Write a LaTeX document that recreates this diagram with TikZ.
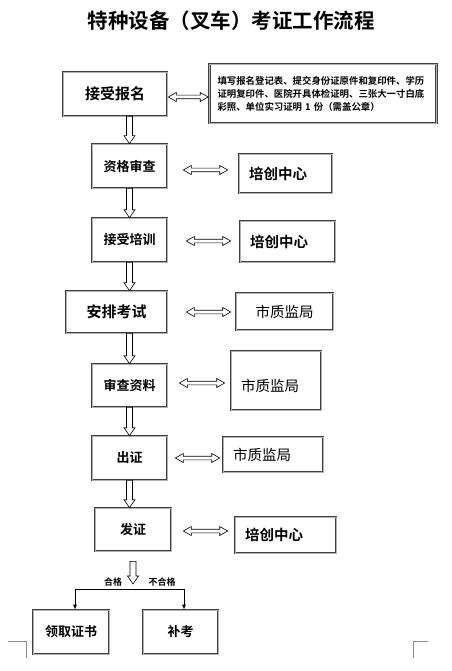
\documentclass[tikz,border=0pt]{standalone}
\usepackage{fontspec}
\setmainfont{Noto Sans CJK SC}
\newfontfamily\cjkb{Noto Sans CJK SC Bold}
\usetikzlibrary{calc,arrows.meta}
\tikzset{
  box/.style={draw=black!75, double=black!30, line width=0.6pt, double distance=0.9pt,
    fill=white, inner sep=0pt, font=\cjkb\fontsize{13}{15}\selectfont},
  sidebox/.style={box, align=left, inner xsep=10pt, inner ysep=0pt, font=\cjkb\fontsize{14.5}{16}\selectfont},
  harrow/.style={draw=black, line width=0.6pt, fill=white, line join=miter},
  small/.style={font=\cjkb\fontsize{9}{10}\selectfont, inner sep=0pt},
  corner/.style={draw=black!45, line width=0.6pt}
}
\newcommand\vharrow[2]{\draw[harrow] let \p1=#1, \p2=#2 in
  (\x1-3pt,\y1) -- (\x1-3pt,\y2+8pt) -- (\x1-5.5pt,\y2+8pt) -- (\x1,\y2) --
  (\x1+5.5pt,\y2+8pt) -- (\x1+3pt,\y2+8pt) -- (\x1+3pt,\y1) -- cycle;}
% #1 left node, #2 right node, #3 y, #4 left gap, #5 right gap
\newcommand\dharrow[5]{\draw[harrow] let \p1=(#1.east), \p2=(#2.west), \p3=(0,#3) in
  (\x1+#4pt,\y3) -- (\x1+#4pt+8pt,\y3+4.5pt) -- (\x1+#4pt+8pt,\y3+1.8pt) --
  (\x2-#5pt-8pt,\y3+1.8pt) -- (\x2-#5pt-8pt,\y3+4.5pt) -- (\x2-#5pt,\y3) --
  (\x2-#5pt-8pt,\y3-4.5pt) -- (\x2-#5pt-8pt,\y3-1.8pt) -- (\x1+#4pt+8pt,\y3-1.8pt) --
  (\x1+#4pt+8pt,\y3-4.5pt) -- cycle;}
\begin{document}
\begin{tikzpicture}[x=1pt,y=-1pt]
\useasboundingbox (0,0) rectangle (451,671);
\node[font=\cjkb\fontsize{20.5}{23}\selectfont] (title) at (231,21) {特种设备（叉车）考证工作流程};

\coordinate (col) at (129.5,0);

% main column
\node[box, minimum width=104pt, minimum height=44pt, font=\cjkb\fontsize{15}{17}\selectfont] (s1) at (115,94) {接受报名};
\node[box, minimum width=75pt, minimum height=44pt] (s2) at (129.5,166) {资格审查};
\node[box, minimum width=75pt, minimum height=44pt] (s3) at (129.5,240) {接受培训};
\node[box, minimum width=101pt, minimum height=42pt, font=\cjkb\fontsize{15}{17}\selectfont] (s4) at (116.5,312) {安排考试};
\node[box, minimum width=75pt, minimum height=43pt] (s5) at (129.5,385.5) {审查资料};
\node[box, minimum width=75pt, minimum height=44pt] (s6) at (129.5,458) {出证};
\node[box, minimum width=76pt, minimum height=43pt] (s7) at (133,529.5) {发证};

% side boxes
\node[box, inner xsep=8pt, inner ysep=0pt, text width=211pt, align=left, minimum height=59pt,
  font=\cjkb\fontsize{9.4}{13}\selectfont] (info) at (323,93.5)
  {填写报名登记表、提交身份证原件和复印件、学历\\证明复印件、医院开具体检证明、三张大一寸白底\\彩照、单位实习证明 1 份（需盖公章）};
\node[sidebox, text width=73pt, minimum height=39pt] (c1) at (285.5,173.5) {培创中心};
\node[sidebox, text width=75pt, minimum height=41pt] (c2) at (287.5,241.5) {培创中心};
\node[sidebox, text width=77pt, align=center, minimum height=37pt, font=\fontsize{14.5}{16}\selectfont] (m1) at (284.5,311.5) {市质监局};
\node[sidebox, text width=70pt, minimum height=59pt, text height=22pt, text depth=0pt, font=\fontsize{14.5}{16}\selectfont] (m2) at (276,380.5) {市质监局};
\node[sidebox, text width=80pt, minimum height=35pt, font=\fontsize{14.5}{16}\selectfont] (m3) at (273,454.5) {市质监局};
\node[sidebox, text width=81pt, minimum height=36pt] (c3) at (285.5,535) {培创中心};

% bottom boxes
\node[box, minimum width=76pt, minimum height=44pt] (ok) at (71,632) {领取证书};
\node[box, minimum width=75pt, minimum height=44pt] (re) at (180.5,632) {补考};

% vertical hollow arrows
\vharrow{(s1.south -| col)}{(s2.north -| col)}
\vharrow{(s2.south -| col)}{(s3.north -| col)}
\vharrow{(s3.south -| col)}{(s4.north -| col)}
\vharrow{(s4.south -| col)}{(s5.north -| col)}
\vharrow{(s5.south -| col)}{(s6.north -| col)}
\vharrow{(s6.south -| col)}{(s7.north -| col)}

% horizontal double arrows
\dharrow{s1}{info}{97}{1}{1}
\dharrow{s2}{c1}{170}{16}{11}
\dharrow{s3}{c2}{241}{19}{9}
\dharrow{s4}{m1}{312}{19}{5}
\dharrow{s5}{m2}{383}{12}{6}
\dharrow{s6}{m3}{458}{8}{3}
\dharrow{s7}{c3}{531}{12}{7}

% branch
\coordinate (br) at (133,589);
\vharrow{([yshift=-10pt]s7.south)}{([yshift=5pt]br)}
\node[small] (lok) at (113,582) {合格};
\node[small] (lre) at (162,582) {不合格};
\draw[line width=0.7pt, -{Latex[length=5pt,width=4pt]}] (br) -| ([xshift=4pt]ok.north);
\draw[line width=0.7pt, -{Latex[length=5pt,width=4pt]}] (br) -| ([xshift=3.5pt]re.north);

% page corner marks
\draw[corner] (8,641) -- (26,641) -- (26,658);
\draw[corner] (428,641) -- (413,641) -- (413,658);
\end{tikzpicture}
\end{document}
